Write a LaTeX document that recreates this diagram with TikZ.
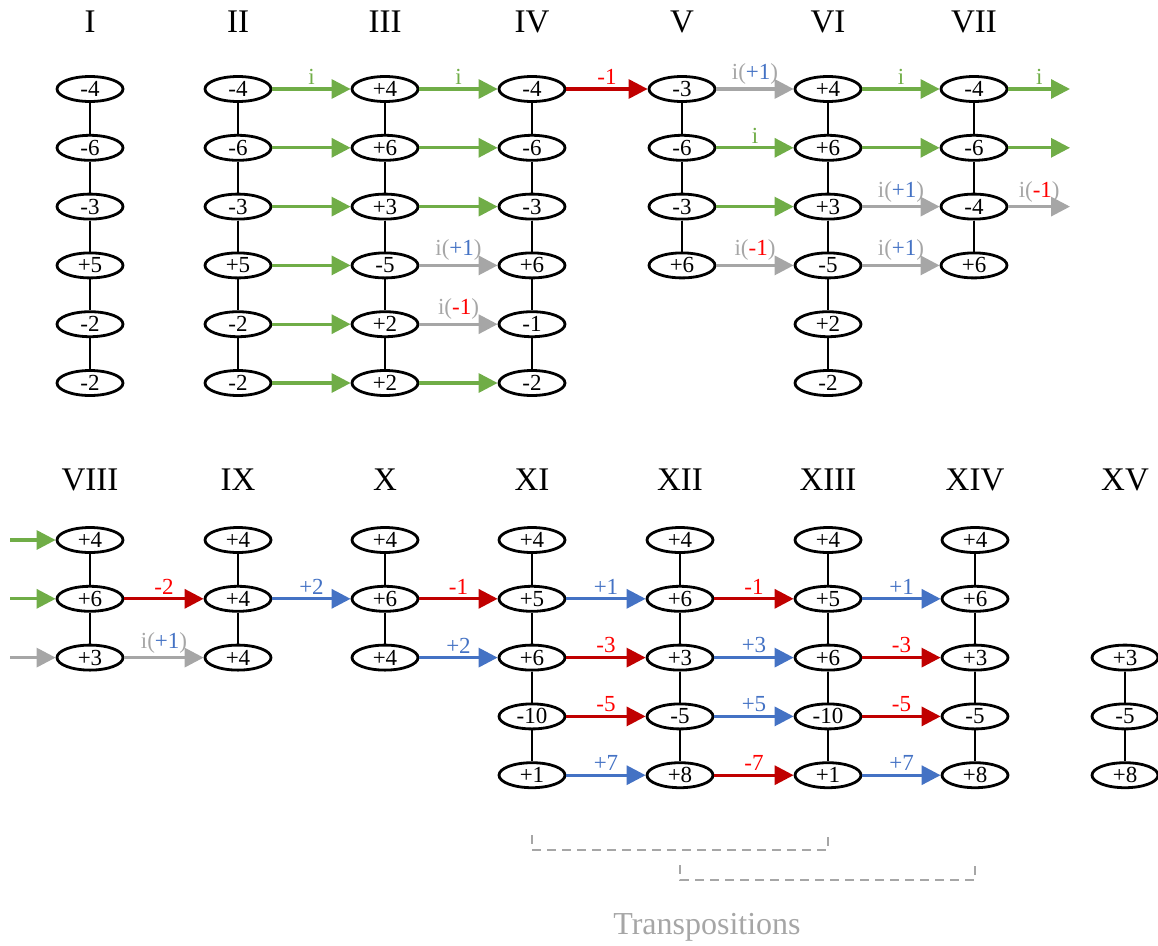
\documentclass[tikz,border=0pt]{standalone}
\usepackage{fontspec}
\setmainfont{Liberation Serif}
\usetikzlibrary{arrows.meta,shapes.geometric}
\definecolor{gstep}{HTML}{70AD47}
\definecolor{rstep}{HTML}{C00000}
\definecolor{bstep}{HTML}{4472C4}
\definecolor{istep}{HTML}{A6A6A6}
\definecolor{rtext}{HTML}{FF0000}
\tikzset{
  cell/.style={draw,ellipse,line width=2.8pt,minimum width=66pt,minimum height=25pt,
               inner sep=0pt,fill=white,font=\fontsize{23}{23}\selectfont},
  link/.style={line width=1.4pt},
  mv/.style={line width=3.2pt,-{Triangle[length=19pt,width=19pt]}},
  gmove/.style={mv,gstep},
  rmove/.style={mv,rstep},
  bmove/.style={mv,bstep},
  imove/.style={mv,istep},
  lbl/.style={above=2pt,inner sep=1pt,font=\fontsize{23}{23}\selectfont},
  glbl/.style={lbl,text=gstep},
  rlbl/.style={lbl,text=rtext},
  blbl/.style={lbl,text=bstep},
  ilbl/.style={lbl,text=istep},
  hdr/.style={font=\fontsize{33}{33}\selectfont},
  trans/.style={istep,line width=2.2pt,dash pattern=on 9pt off 6pt},
}
\newcommand{\ipl}{i(\textcolor{bstep}{+1})}
\newcommand{\imn}{i(\textcolor{rtext}{-1})}
% name, x, y of row 1, first row, values
\newcommand{\colstack}[5]{%
  \foreach \v [count=\r from #4] in {#5} {
    \node[cell] (#1-\r) at (#2,{#3+(\r-1)*58.8}) {\v};
    \ifnum\r>#4
      \pgfmathtruncatemacro\p{\r-1}
      \draw[link] (#1-\p) -- (#1-\r);
    \fi
  }}

\begin{document}
\begin{tikzpicture}[x=1pt,y=-1pt]
\useasboundingbox (0,0) rectangle (1158,945);

% headers
\foreach \t/\x in {I/90,II/238,III/385,IV/532,V/682,VI/828,VII/974}
  \node[hdr] (h\t) at (\x,22) {\t};
\foreach \t/\x in {VIII/90,IX/238,X/385,XI/532,XII/680,XIII/828,XIV/975,XV/1125}
  \node[hdr] (h\t) at (\x,480) {\t};

% top line
\colstack{I}{90}{89}{1}{-4,-6,-3,+5,-2,-2}
\colstack{II}{238}{89}{1}{-4,-6,-3,+5,-2,-2}
\colstack{III}{385}{89}{1}{+4,+6,+3,-5,+2,+2}
\colstack{IV}{532}{89}{1}{-4,-6,-3,+6,-1,-2}
\colstack{V}{682}{89}{1}{-3,-6,-3,+6}
\colstack{VI}{828}{89}{1}{+4,+6,+3,-5,+2,-2}
\colstack{VII}{974}{89}{1}{-4,-6,-4,+6}

% bottom line
\colstack{VIII}{90}{540}{1}{+4,+6,+3}
\colstack{IX}{238}{540}{1}{+4,+4,+4}
\colstack{X}{385}{540}{1}{+4,+6,+4}
\colstack{XI}{532}{540}{1}{+4,+5,+6,-10,+1}
\colstack{XII}{680}{540}{1}{+4,+6,+3,-5,+8}
\colstack{XIII}{828}{540}{1}{+4,+5,+6,-10,+1}
\colstack{XIV}{975}{540}{1}{+4,+6,+3,-5,+8}
\colstack{XV}{1125}{540}{3}{+3,-5,+8}

\coordinate (outedge) at (1070,0);
\coordinate (inedge) at (10,0);

% II -> III
\draw[gmove] (II-1) -- node[glbl]{i} (III-1);
\foreach \r in {2,...,6} \draw[gmove] (II-\r) -- (III-\r);
% III -> IV
\draw[gmove] (III-1) -- node[glbl]{i} (IV-1);
\foreach \r in {2,3,6} \draw[gmove] (III-\r) -- (IV-\r);
\draw[imove] (III-4) -- node[ilbl]{\ipl} (IV-4);
\draw[imove] (III-5) -- node[ilbl]{\imn} (IV-5);
% IV -> V
\draw[rmove] (IV-1) -- node[rlbl]{-1} (V-1);
% V -> VI
\draw[imove] (V-1) -- node[ilbl]{\ipl} (VI-1);
\draw[gmove] (V-2) -- node[glbl]{i} (VI-2);
\draw[gmove] (V-3) -- (VI-3);
\draw[imove] (V-4) -- node[ilbl]{\imn} (VI-4);
% VI -> VII
\draw[gmove] (VI-1) -- node[glbl]{i} (VII-1);
\draw[gmove] (VI-2) -- (VII-2);
\draw[imove] (VI-3) -- node[ilbl]{\ipl} (VII-3);
\draw[imove] (VI-4) -- node[ilbl]{\ipl} (VII-4);
% VII -> on
\draw[gmove] (VII-1) -- node[glbl]{i} (VII-1 -| outedge);
\draw[gmove] (VII-2) -- (VII-2 -| outedge);
\draw[imove] (VII-3) -- node[ilbl]{\imn} (VII-3 -| outedge);

% in -> VIII
\draw[gmove] (VIII-1 -| inedge) -- (VIII-1);
\draw[gmove] (VIII-2 -| inedge) -- (VIII-2);
\draw[imove] (VIII-3 -| inedge) -- (VIII-3);
% VIII -> IX
\draw[rmove] (VIII-2) -- node[rlbl]{-2} (IX-2);
\draw[imove] (VIII-3) -- node[ilbl]{\ipl} (IX-3);
% IX -> X
\draw[bmove] (IX-2) -- node[blbl]{+2} (X-2);
% X -> XI
\draw[rmove] (X-2) -- node[rlbl]{-1} (XI-2);
\draw[bmove] (X-3) -- node[blbl]{+2} (XI-3);
% XI -> XII
\draw[bmove] (XI-2) -- node[blbl]{+1} (XII-2);
\draw[rmove] (XI-3) -- node[rlbl]{-3} (XII-3);
\draw[rmove] (XI-4) -- node[rlbl]{-5} (XII-4);
\draw[bmove] (XI-5) -- node[blbl]{+7} (XII-5);
% XII -> XIII
\draw[rmove] (XII-2) -- node[rlbl]{-1} (XIII-2);
\draw[bmove] (XII-3) -- node[blbl]{+3} (XIII-3);
\draw[bmove] (XII-4) -- node[blbl]{+5} (XIII-4);
\draw[rmove] (XII-5) -- node[rlbl]{-7} (XIII-5);
% XIII -> XIV
\draw[bmove] (XIII-2) -- node[blbl]{+1} (XIV-2);
\draw[rmove] (XIII-3) -- node[rlbl]{-3} (XIV-3);
\draw[rmove] (XIII-4) -- node[rlbl]{-5} (XIV-4);
\draw[bmove] (XIII-5) -- node[blbl]{+7} (XIV-5);

% transpositions
\draw[trans] ([yshift=-60pt]XI-5.center) -- ++(0,15) -| ([yshift=-60pt]XIII-5.center);
\draw[trans] ([yshift=-90pt]XII-5.center) -- ++(0,15) -| ([yshift=-90pt]XIV-5.center);
\node[font=\fontsize{32}{32}\selectfont,text=istep] (tlabel) at (707,927) {Transpositions};
\end{tikzpicture}
\end{document}
